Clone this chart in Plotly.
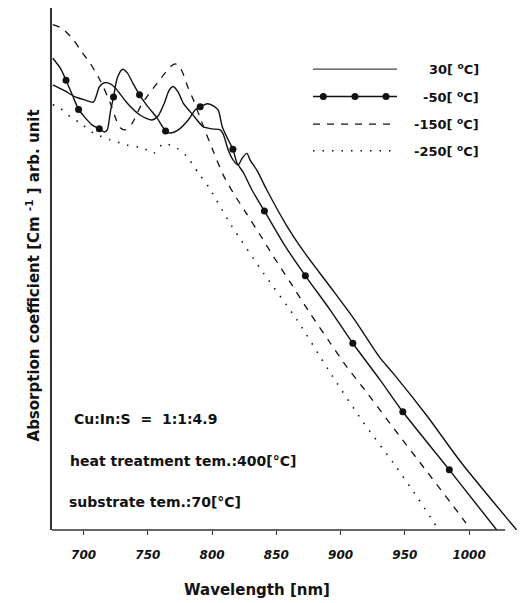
import plotly.graph_objects as go

# ---- data (absorption in arbitrary units) ----
wl_30 = [676, 685.8, 693.5, 701.3, 707.5, 709.9, 712.2, 716.1, 720.8, 724.7, 734.0, 744.1, 753.2, 758.1,
         762.8, 766.6, 769.7, 773.6, 777.5, 785.3, 793.1, 800.1, 806.3, 808.6, 812.5, 816.4, 820.3, 823.4,
         827.1, 829.6, 834.8, 842.6, 858.2, 871.1, 891.9, 910.0, 930.7, 940.8, 967.3, 992.9, 1037.0]
a_30 = [85.1, 83.9, 82.8, 82.2, 81.8, 83.0, 84.7, 85.5, 85.3, 84.5, 81.6, 79.3, 78.4, 79.2,
        81.6, 84.1, 84.8, 83.7, 81.6, 79.3, 77.1, 76.7, 76.5, 75.7, 72.7, 70.7, 69.8, 71.1,
        72.0, 70.7, 68.8, 65.0, 58.1, 53.3, 46.5, 40.5, 32.9, 30.0, 21.8, 13.2, 0]

wl_m50 = [676, 681.9, 686.3, 691.2, 696.1, 701.3, 706.8, 712.2, 716.1, 718.4, 720.8, 723.3, 726.2, 730.3,
          734.0, 738.6, 743.5, 749.5, 757.1, 763.8, 767.4, 773.6, 781.4, 786.8, 790.7, 796.2, 800.9, 804.7,
          807.9, 812.5, 816.2, 819.3, 824.4, 831.0, 840.7, 855.5, 872.6, 891.8, 909.5, 930.7, 948.4, 984.6, 1021.5]
a_m50 = [90.2, 88.3, 86.0, 83.2, 80.4, 78.8, 77.4, 76.7, 76.1, 76.5, 79.9, 82.8, 86.4, 88.1,
         87.4, 85.3, 83.2, 81.1, 78.8, 76.3, 75.9, 76.5, 78.4, 80.3, 80.9, 81.5, 81.1, 80.3,
         77.1, 74.6, 72.8, 70.2, 68.3, 65.0, 61.0, 54.8, 48.6, 42.1, 35.7, 28.7, 22.6, 11.5, 0]
wl_m50_marks = [686.3, 696.1, 712.2, 723.3, 743.5, 763.8, 790.7, 816.2, 840.7, 872.6, 909.5, 948.4, 984.6]
a_m50_marks = [86.0, 80.4, 76.7, 82.8, 83.2, 76.3, 80.9, 72.8, 61.0, 48.6, 35.7, 22.6, 11.5]

wl_m150 = [676, 683.2, 692.2, 697.4, 705.2, 713.0, 720.8, 725.4, 728.5, 732.4, 737.9, 744.1, 750.3, 757.1,
           763.5, 768.2, 771.3, 774.4, 777.8, 781.4, 785.5, 793.3, 801.1, 808.6, 816.6, 826.5, 837.4, 847.7,
           860.7, 876.3, 891.8, 904.8, 917.5, 942.4, 968.0, 992.8, 997.6]
a_m150 = [96.6, 95.9, 93.7, 91.8, 89.2, 85.9, 81.6, 78.4, 76.9, 76.5, 77.8, 80.9, 83.2, 85.4,
          87.4, 88.7, 89.1, 88.7, 87.0, 84.5, 82.2, 77.1, 72.3, 67.9, 64.4, 60.6, 56.4, 52.3,
          47.4, 41.4, 35.8, 31.2, 27.2, 19.1, 10.9, 2.9, 1.3]

wl_m250 = [676, 681.9, 689.7, 697.4, 707.8, 720.8, 733.7, 746.7, 754.4, 762.2, 772.6, 780.4, 789.4, 797.2,
           814.8, 840.0, 866.0, 890.5, 916.5, 941.1, 959.3, 974.8]
a_m250 = [81.3, 80.6, 79.0, 77.8, 75.9, 74.6, 73.6, 73.0, 72.0, 73.9, 73.0, 71.4, 68.2, 65.6,
          58.3, 49.1, 40.2, 30.6, 21.0, 12.8, 6.4, 0.6]

x_ticks = [700, 750, 800, 850, 900, 950, 1000]
x_tick_text = ["700", "750", "800", "850", "900", "950", "1000"]
legend_labels = ["30[ <sup>o</sup>C]", "-50[ <sup>o</sup>C]", "-150[ <sup>o</sup>C]", "-250[ <sup>o</sup>C]"]
notes = ["Cu:In:S\u00a0\u00a0=\u00a0\u00a01:1:4.9", "heat treatment tem.:400[°C]", "substrate tem.:70[°C]"]

X_RANGE = [675.4, 1039.6]
Y_RANGE = [0, 99.8]
INK = "#111111"
FONT = "DejaVu Sans"

fig = go.Figure()
fig.add_trace(go.Scatter(x=wl_30, y=a_30, mode="lines", line=dict(color=INK, width=1.4, shape="spline", smoothing=0.7),
                         showlegend=False))
fig.add_trace(go.Scatter(x=wl_m50, y=a_m50, mode="lines", line=dict(color=INK, width=1.4, shape="spline", smoothing=0.7),
                         showlegend=False))
fig.add_trace(go.Scatter(x=wl_m50_marks, y=a_m50_marks, mode="markers", marker=dict(color=INK, size=7),
                         showlegend=False))
fig.add_trace(go.Scatter(x=wl_m150, y=a_m150, mode="lines",
                         line=dict(color=INK, width=1.3, dash="7px,7px", shape="spline", smoothing=0.7),
                         showlegend=False))
fig.add_trace(go.Scatter(x=wl_m250, y=a_m250, mode="lines",
                         line=dict(color=INK, width=1.6, dash="1.5px,8px", shape="spline", smoothing=0.7),
                         showlegend=False))

# ---- hand-drawn style legend (top right) ----
leg_x0, leg_x1, leg_xt = 0.5577, 0.7372, 0.9167
leg_rows = [0.8828, 0.8304, 0.7776, 0.7266]
leg_dash = ["solid", "solid", "7px,7px", "1.5px,8px"]
leg_width = [1.2, 1.4, 1.3, 1.6]
shapes = []
for yy, dsh, w in zip(leg_rows, leg_dash, leg_width):
    shapes.append(dict(type="line", xref="paper", yref="paper", x0=leg_x0, x1=leg_x1, y0=yy, y1=yy,
                       line=dict(color=INK if dsh != "solid" or w > 1.3 else "#444", width=w, dash=dsh)))
for mx in [0.5797, 0.6474, 0.7137]:
    shapes.append(dict(type="circle", xref="paper", yref="paper", xsizemode="pixel", ysizemode="pixel",
                       xanchor=mx, yanchor=leg_rows[1], x0=-3.5, x1=3.5, y0=-3.5, y1=3.5,
                       fillcolor=INK, line=dict(color=INK, width=0)))
# bottom axis line (ends before the plot edge, as in the original)
shapes.append(dict(type="line", xref="x", yref="paper", x0=X_RANGE[0], x1=1028, y0=0, y1=0,
                   line=dict(color="#333333", width=1.6)))

annotations = []
for yy, lab in zip(leg_rows, legend_labels):
    annotations.append(dict(text=lab, xref="paper", yref="paper", x=leg_xt, y=yy, xanchor="right", yanchor="middle",
                            showarrow=False, font=dict(family=FONT, size=13, color=INK, weight="bold")))
for (xx, yy), lab in zip([(0.042, 0.2122), (0.034, 0.1319), (0.032, 0.0541)], notes):
    annotations.append(dict(text=lab, xref="paper", yref="paper", x=xx, y=yy, xanchor="left", yanchor="middle",
                            showarrow=False, font=dict(family=FONT, size=14, color=INK, weight="bold")))
annotations.append(dict(text="Wavelength [nm]", xref="paper", yref="paper", x=0.437, y=-0.1147,
                        xanchor="center", yanchor="middle", showarrow=False,
                        font=dict(family=FONT, size=15, color=INK, weight="bold")))
annotations.append(dict(text="Absorption coefficient [Cm <sup>-1</sup> ] arb. unit", xref="paper", yref="paper",
                        x=-0.0406, y=0.4876, xanchor="center", yanchor="middle", textangle=-90, showarrow=False,
                        font=dict(family=FONT, size=15, color=INK, weight="bold")))

# page body has an 8px default margin, so the figure is sized to fit the 530x603 window
fig.update_layout(
    width=522, height=595,
    margin=dict(l=44, r=10, t=0, b=73),
    paper_bgcolor="white", plot_bgcolor="white",
    shapes=shapes, annotations=annotations,
    xaxis=dict(range=X_RANGE, showgrid=False, zeroline=False, showline=False,
               tickvals=x_ticks, ticktext=x_tick_text, ticks="outside", ticklen=4, tickwidth=1,
               tickcolor="#333333", ticklabelstandoff=10,
               tickfont=dict(family=FONT, size=12, color=INK, weight="bold", style="italic")),
    xaxis2=dict(range=X_RANGE, overlaying="x", side="bottom", showgrid=False, zeroline=False, showline=False,
                tickvals=x_ticks, ticks="inside", ticklen=3, tickwidth=1, tickcolor="#333333",
                showticklabels=False),
    yaxis=dict(range=Y_RANGE, showgrid=False, zeroline=False, showline=True, linecolor="#333333", linewidth=1.6,
               ticks="", showticklabels=False),
)

fig.write_html("out.html")
